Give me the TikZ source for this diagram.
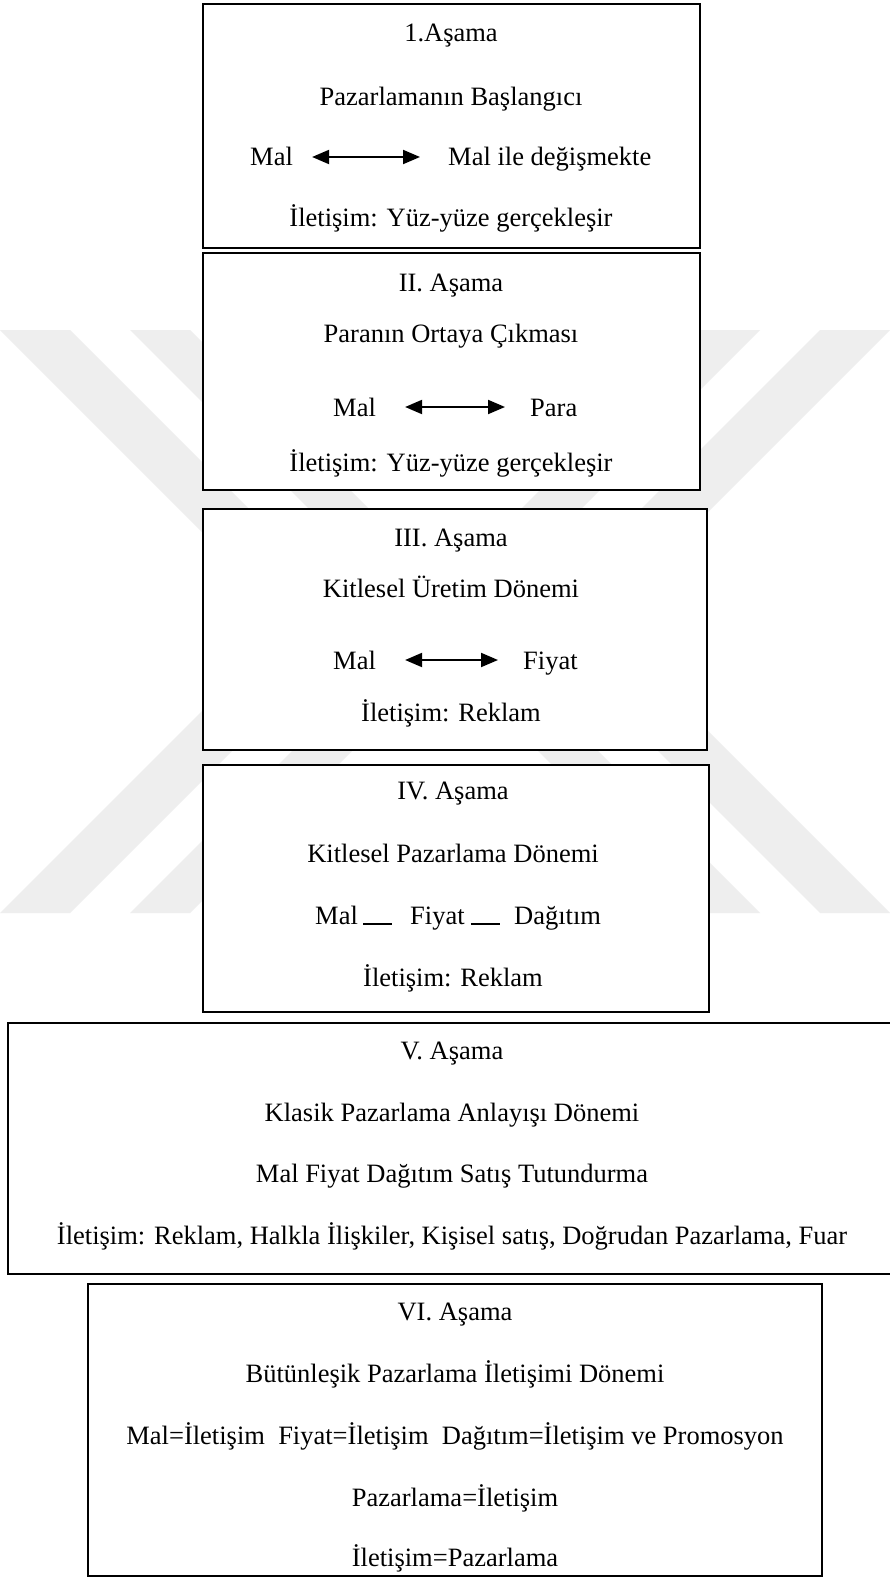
\documentclass[tikz,border=0pt]{standalone}
\usepackage{fontspec}
\setmainfont{Liberation Serif}
\usetikzlibrary{arrows.meta}
\definecolor{wm}{gray}{0.935}
\tikzset{
  stagebox/.style={draw=black, line width=2pt, fill=white},
  txt/.style={inner sep=0pt, anchor=base, font=\fontsize{26.5}{30}\selectfont},
  txtl/.style={inner sep=0pt, anchor=base west, font=\fontsize{26.5}{30}\selectfont},
  dblarrow/.style={line width=2pt, {Triangle[length=17pt,width=14pt]}-{Triangle[length=17pt,width=14pt]}},
  dashline/.style={line width=2pt},
  wmark/.style={fill=wm, draw=none}
}
\begin{document}
\begin{tikzpicture}[x=1pt,y=-1pt]
\useasboundingbox (0,0) rectangle (890,1578);
\fill[white] (0,0) rectangle (890,1578);
% watermark
\fill[wmark] (0,330) -- (70,330) -- (361.5,621.5) -- (70,913) -- (0,913) -- (291.5,621.5) -- cycle;
\fill[wmark] (130,330) -- (190,330) -- (481.5,621.5) -- (190,913) -- (130,913) -- (421.5,621.5) -- cycle;
\fill[wmark] (890,330) -- (820,330) -- (528.5,621.5) -- (820,913) -- (890,913) -- (598.5,621.5) -- cycle;
\fill[wmark] (760,330) -- (700,330) -- (408.5,621.5) -- (700,913) -- (760,913) -- (468.5,621.5) -- cycle;

% Stage 1
\draw[stagebox] (203,4) rectangle (700,248);
\node[txt] (s1t) at (451,42) {1.Aşama};
\node[txt] (s1a) at (451,106) {Pazarlamanın Başlangıcı};
\node[txtl] (s1m) at (250,166) {Mal};
\node[txtl] (s1r) at (448,166) {Mal ile değişmekte};
\draw[dblarrow] ([xshift=19pt,yshift=9pt]s1m.base east) -- ([xshift=-28pt,yshift=9pt]s1r.base west);
\node[txt] (s1i) at (451,227) {İletişim: Yüz-yüze gerçekleşir};

% Stage 2
\draw[stagebox] (203,253) rectangle (700,490);
\node[txt] (s2t) at (451,292) {II. Aşama};
\node[txt] (s2a) at (451,342) {Paranın Ortaya Çıkması};
\node[txtl] (s2m) at (333,416) {Mal};
\node[txtl] (s2r) at (530,416) {Para};
\draw[dblarrow] ([xshift=29pt,yshift=9pt]s2m.base east) -- ([xshift=-25pt,yshift=9pt]s2r.base west);
\node[txt] (s2i) at (451,471) {İletişim: Yüz-yüze gerçekleşir};

% Stage 3
\draw[stagebox] (203,509) rectangle (707,750);
\node[txt] (s3t) at (451,546) {III. Aşama};
\node[txt] (s3a) at (451,597) {Kitlesel Üretim Dönemi};
\node[txtl] (s3m) at (333,669) {Mal};
\node[txtl] (s3r) at (523,669) {Fiyat};
\draw[dblarrow] ([xshift=29pt,yshift=9pt]s3m.base east) -- ([xshift=-25pt,yshift=9pt]s3r.base west);
\node[txt] (s3i) at (451,721) {İletişim: Reklam};

% Stage 4
\draw[stagebox] (203,765) rectangle (709,1012);
\node[txt] (s4t) at (453,799) {IV. Aşama};
\node[txt] (s4a) at (453,862) {Kitlesel Pazarlama Dönemi};
\node[txtl] (s4m) at (315,924) {Mal};
\node[txtl] (s4f) at (410,924) {Fiyat};
\node[txtl] (s4d) at (514,924) {Dağıtım};
\draw[dashline] ([xshift=5pt]s4m.base east) -- ([xshift=-18pt]s4f.base west);
\draw[dashline] ([xshift=6pt]s4f.base east) -- ([xshift=-14pt]s4d.base west);
\node[txt] (s4i) at (453,986) {İletişim: Reklam};

% Stage 5
\draw[stagebox] (8,1023) rectangle (905,1274);
\node[txt] (s5t) at (452,1059) {V. Aşama};
\node[txt] (s5a) at (452,1121) {Klasik Pazarlama Anlayışı Dönemi};
\node[txt] (s5b) at (452,1182) {Mal Fiyat Dağıtım Satış Tutundurma};
\node[txt] (s5i) at (452,1244) {İletişim: Reklam, Halkla İlişkiler, Kişisel satış, Doğrudan Pazarlama, Fuar};

% Stage 6
\draw[stagebox] (88,1284) rectangle (822,1576);
\node[txt] (s6t) at (455,1320) {VI. Aşama};
\node[txt] (s6a) at (455,1382) {Bütünleşik Pazarlama İletişimi Dönemi};
\node[txt] (s6b) at (455,1444) {Mal=İletişim\ \ Fiyat=İletişim\ \ Dağıtım=İletişim ve Promosyon};
\node[txt] (s6c) at (455,1506) {Pazarlama=İletişim};
\node[txt] (s6d) at (455,1566) {İletişim=Pazarlama};
\end{tikzpicture}
\end{document}
